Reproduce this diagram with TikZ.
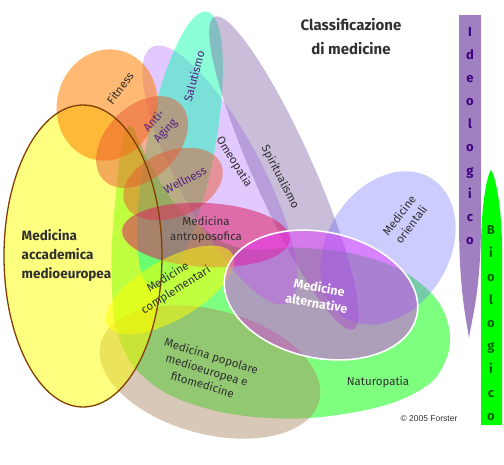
\documentclass[tikz,border=0pt]{standalone}
\usepackage{fontspec}
\setmainfont{Fira Sans}
\newfontfamily\arialfont{Liberation Sans}
\definecolor{natgreen}{RGB}{0,255,0}
\definecolor{popotan}{RGB}{169,133,98}
\definecolor{accyellow}{RGB}{255,255,0}
\definecolor{accbrown}{RGB}{128,64,0}
\definecolor{omeolav}{RGB}{170,100,255}
\definecolor{saluteal}{RGB}{0,255,170}
\definecolor{spirgray}{RGB}{120,90,160}
\definecolor{orientblue}{RGB}{100,100,255}
\definecolor{fitorange}{RGB}{255,128,0}
\definecolor{agered}{RGB}{232,90,50}
\definecolor{antropink}{RGB}{220,30,100}
\definecolor{altmagenta}{RGB}{230,40,255}
\definecolor{ideopurple}{RGB}{160,128,192}
\definecolor{ideotext}{RGB}{64,0,128}
\definecolor{biotext}{RGB}{0,96,0}
\definecolor{labelgray}{RGB}{48,48,48}
\definecolor{labelpurple}{RGB}{80,32,128}
\begin{document}
\begin{tikzpicture}[x=1pt,y=-1pt,
    lbl/.style={font=\fontsize{11.5}{15}\selectfont, text=labelgray, align=center, inner sep=0.5pt},
    lblp/.style={lbl, text=labelpurple},
    bar/.style={font=\bfseries\fontsize{13}{23.2}\selectfont, align=center, inner sep=0.5pt}]
  \useasboundingbox (0,0) rectangle (504,464);
  % big areas
  \fill[natgreen, fill opacity=.5] plot[smooth cycle, tension=.7] coordinates {
    (127,128) (148,160) (172,200) (200,226) (240,248) (305,248) (370,258)
    (420,283) (447,320) (445,362) (415,393) (350,413) (270,418) (195,405)
    (145,378) (120,340) (112,290) (114,215)};
  \fill[popotan, fill opacity=.45, rotate around={-15:(210,372)}] (210,372) ellipse (113 and 62);
  \fill[accyellow, fill opacity=.5] (83,256) ellipse (79 and 151);
  \fill[omeolav, fill opacity=.35, rotate around={-62:(220,175)}] (220,175) ellipse (145 and 42);
  \fill[saluteal, fill opacity=.45, rotate around={79:(180,150)}] (180,150) ellipse (141 and 34);
  \fill[spirgray, fill opacity=.4, rotate around={-66:(284,173)}] (284,173) ellipse (171 and 30);
  \fill[orientblue, fill opacity=.33, rotate around={58:(388,248)}] (388,248) ellipse (82 and 61);
  % small areas
  \fill[fitorange, fill opacity=.55, rotate around={-15:(107,105)}] (107,105) ellipse (50 and 56);
  \fill[agered, fill opacity=.5, rotate around={45:(142,142)}] (142,142) ellipse (54 and 36);
  \fill[agered, fill opacity=.5, rotate around={22:(173,184)}] (173,184) ellipse (52 and 33);
  \fill[antropink, fill opacity=.55, rotate around={-3:(206,235)}] (206,235) ellipse (84 and 32);
  \fill[accyellow, fill opacity=.5, rotate around={30:(170,290)}] (170,290) ellipse (72 and 30);
  \draw[accbrown, line width=1.3pt] (83,256) ellipse (79 and 151);
  \draw[white, line width=1.6pt, fill=altmagenta, fill opacity=.45, rotate around={-12:(321,295)}] (321,295) ellipse (98 and 63);
  % bars
  \fill[ideopurple] (459,15) -- (481,15) -- (481,220) .. controls (481,290) and (472,318) .. (469,338)
    .. controls (466,318) and (459,290) .. (459,220) -- cycle;
  \fill[natgreen] (481,425) -- (502,425) -- (502,250) .. controls (502,205) and (495,175) .. (491,170)
    .. controls (487,175) and (481,205) .. (481,250) -- cycle;
  % labels
  \node[font=\bfseries\fontsize{15}{24}\selectfont, text=labelgray, align=center] (title) at (351,37) {Classificazione\\di medicine};
  \node[bar, text=ideotext] (ideo) at (470,136) {I\\d\\e\\o\\l\\o\\g\\i\\c\\o};
  \node[bar, text=biotext] (bio) at (491,323) {B\\i\\o\\l\\o\\g\\i\\c\\o};
  \node[lbl, rotate=53] (fitness) at (120,88) {Fitness};
  \node[lblp, rotate=75] (salut) at (194,76) {Salutismo};
  \node[lblp, rotate=48] (aging) at (160,126) {Anti-\\Aging};
  \node[lblp, rotate=27] (well) at (185,180) {Wellness};
  \node[lbl, rotate=-58] (omeo) at (234,162) {Omeopatia};
  \node[lbl, rotate=-63] (spirit) at (280,177) {Spiritualismo};
  \node[lbl] (antro) at (206,230) {Medicina\\antroposofica};
  \node[lbl, rotate=32] (compl) at (172,284) {Medicine\\complementari};
  \node[lbl, rotate=-17] (popol) at (207,370) {Medicina popolare\\medioeuropea e\\fitomedicine};
  \node[lbl] (natur) at (378,382) {Naturopatia};
  \node[lbl, rotate=53] (orient) at (405,220) {Medicine\\orientali};
  \node[font=\bfseries\fontsize{12.5}{16}\selectfont, text=white, align=center, rotate=-10, inner sep=0.5pt] (altern) at (318,295) {Medicine\\alternative};
  \node[font=\bfseries\fontsize{13.5}{19}\selectfont, text=labelgray, align=left, anchor=west, inner sep=0.5pt] (accad) at (21,256) {Medicina\\accademica\\medioeuropea};
  \node[font=\arialfont\fontsize{8.5}{10}\selectfont, text=labelgray, inner sep=0.5pt] (copy) at (429,419) {© 2005 Forster};
\end{tikzpicture}
\end{document}
